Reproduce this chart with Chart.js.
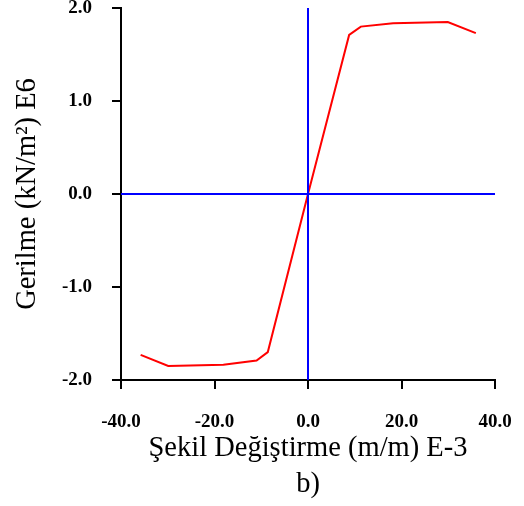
<!DOCTYPE html>
<html>
<head>
<meta charset="utf-8">
<script src="https://cdn.jsdelivr.net/npm/chart.js@4"></script>
<style>
  html, body { margin: 0; padding: 0; background: #fff; }
  #wrap { width: 524px; height: 506px; }
</style>
</head>
<body>
<div id="wrap"><canvas id="chart"></canvas></div>
<script>
// deformation (m/m) E-3 and stress (kN/m2) E6
const strain = [-35.8, -29.9, -18.1, -11.0, -8.6, 0, 8.8, 11.3, 18.2, 29.9, 35.9];
const stress = [-1.73, -1.85, -1.835, -1.79, -1.70, 0, 1.71, 1.80, 1.835, 1.85, 1.73];
const xRange = [-40, 40];
const yRange = [-2, 2];

const points = strain.map((x, i) => ({ x: x, y: stress[i] }));

const tickFont = { family: 'Liberation Serif', size: 19, weight: 'bold', lineHeight: 0.9 };

new Chart(document.getElementById('chart'), {
    type: 'scatter',
    data: {
        datasets: [
            {
                data: [{ x: xRange[0], y: 0 }, { x: xRange[1], y: 0 }],
                showLine: true,
                borderColor: '#0000ff',
                borderWidth: 2,
                pointRadius: 0
            },
            {
                data: [{ x: 0, y: yRange[0] }, { x: 0, y: yRange[1] }],
                showLine: true,
                borderColor: '#0000ff',
                borderWidth: 2,
                pointRadius: 0
            },
            {
                data: points,
                showLine: true,
                borderColor: '#ff0000',
                borderWidth: 2,
                pointRadius: 0,
                tension: 0
            }
        ]
    },
    options: {
        responsive: true,
        maintainAspectRatio: false,
        animation: false,
        layout: { padding: { top: 8, right: 29, left: 0, bottom: 0 } },
        plugins: {
            legend: { display: false },
            tooltip: { enabled: false }
        },
        scales: {
            x: {
                min: xRange[0],
                max: xRange[1],
                afterFit: scale => {
                    scale.height = 126;
                    scale.paddingLeft = 0;
                    scale.paddingRight = 0;
                },
                border: { color: '#000', width: 2 },
                grid: { drawOnChartArea: false, color: '#000', lineWidth: 2, tickLength: 9 },
                ticks: {
                    stepSize: 20,
                    color: '#000',
                    font: tickFont,
                    padding: 25,
                    maxRotation: 0,
                    callback: v => v.toFixed(1)
                },
                title: {
                    display: true,
                    text: ['Şekil Değiştirme (m/m) E-3', 'b)'],
                    color: '#000',
                    font: { family: 'Liberation Serif', size: 28.5, lineHeight: 1.263 },
                    padding: { top: 0, bottom: 3 }
                }
            },
            y: {
                min: yRange[0],
                max: yRange[1],
                afterFit: scale => {
                    scale.width = 121;
                    scale.paddingTop = 0;
                    scale.paddingBottom = 0;
                },
                border: { color: '#000', width: 2 },
                grid: { drawOnChartArea: false, color: '#000', lineWidth: 2, tickLength: 9 },
                ticks: {
                    stepSize: 1,
                    color: '#000',
                    font: tickFont,
                    padding: 20,
                    callback: v => v.toFixed(1)
                },
                title: {
                    display: true,
                    text: 'Gerilme (kN/m²) E6',
                    color: '#000',
                    font: { family: 'Liberation Serif', size: 28.5, lineHeight: 1.2 },
                    padding: { top: 10, bottom: 0 }
                }
            }
        }
    }
});
</script>
</body>
</html>
